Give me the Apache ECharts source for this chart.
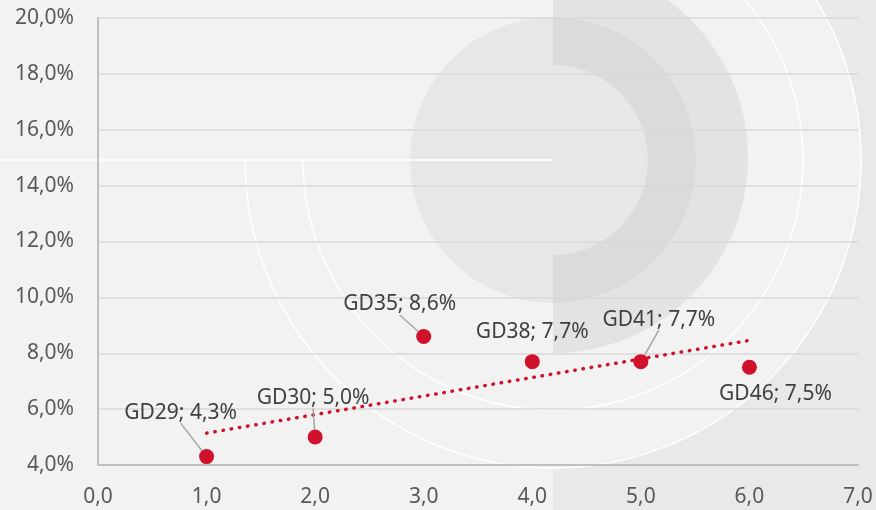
<!DOCTYPE html>
<html>
<head>
<meta charset="utf-8">
<script src="https://cdn.jsdelivr.net/npm/echarts@6/dist/echarts.min.js"></script>
<style>
  html, body { margin: 0; padding: 0; background: #f2f2f2; }
  #main { width: 876px; height: 510px; }
</style>
</head>
<body>
<div id="main"></div>
<script>
// data
var names = ['GD29', 'GD30', 'GD35', 'GD38', 'GD41', 'GD46'];
var xValues = [1, 2, 3, 4, 5, 6];
var yValues = [4.3, 5.0, 8.6, 7.7, 7.7, 7.5];
var showLeader = [true, true, true, false, true, false];
// dotted trend line ends
var trendX = [1, 6];
var trendY = [5.14, 8.46];

// label shift from the dot centre, px
var labelShift = [[-26, -46], [-2, -41], [-24, -34], [0, -32], [18, -44], [26, 25]];

function comma(v, d) {
  return v.toFixed(d).replace('.', ',');
}

var chart = echarts.init(document.getElementById('main'));

var HALF = Math.PI / 2;
var CX = 553, CY = 160;

var option = {
  backgroundColor: '#f2f2f2',
  animation: false,
  textStyle: { fontFamily: 'Noto Sans' },
  graphic: {
    elements: [
      // background decoration
      { type: 'rect', z: -20, silent: true, shape: { x: CX, y: 0, width: 876 - CX, height: 510 }, style: { fill: '#e8e9ea' } },
      { type: 'sector', z: -19, silent: true, shape: { cx: CX, cy: CY, r0: 0, r: 308, startAngle: -HALF, endAngle: HALF }, style: { fill: '#f2f2f2' } },
      { type: 'arc', z: -18, silent: true, shape: { cx: CX, cy: CY, r: 308, startAngle: -HALF, endAngle: Math.PI, clockwise: true }, style: { stroke: '#ffffff', lineWidth: 1.5, fill: null } },
      { type: 'arc', z: -18, silent: true, shape: { cx: CX, cy: CY, r: 250, startAngle: -HALF, endAngle: Math.PI, clockwise: true }, style: { stroke: '#ffffff', lineWidth: 1.5, fill: null } },
      { type: 'sector', z: -17, silent: true, shape: { cx: CX, cy: 158, r0: 0, r: 195, startAngle: -HALF, endAngle: HALF }, style: { fill: '#e3e3e3' } },
      { type: 'circle', z: -16, silent: true, shape: { cx: CX, cy: CY, r: 143 }, style: { fill: '#e6e7e8' } },
      { type: 'sector', z: -15, silent: true, shape: { cx: CX, cy: CY, r0: 95, r: 143, startAngle: -HALF, endAngle: HALF }, style: { fill: '#dbdbdb' } },
      { type: 'line', z: -14, silent: true, shape: { x1: 0, y1: CY, x2: CX, y2: CY }, style: { stroke: '#ffffff', lineWidth: 1.5 } }
    ]
  },
  grid: { left: 98, right: 18, top: 18, bottom: 45 },
  xAxis: {
    type: 'value',
    min: 0,
    max: 7,
    interval: 1,
    axisLine: { show: true, lineStyle: { color: '#bfbfbf', width: 2 } },
    axisTick: { show: false },
    splitLine: { show: false },
    axisLabel: {
      color: '#595959',
      fontSize: 21,
      margin: 22,
      formatter: function (v) { return comma(v, 1); }
    }
  },
  yAxis: {
    type: 'value',
    min: 4,
    max: 20,
    interval: 2,
    axisLine: { show: true, lineStyle: { color: '#bfbfbf', width: 2 } },
    axisTick: { show: false },
    splitLine: { lineStyle: { color: '#d9d9d9', width: 1.5 } },
    axisLabel: {
      color: '#595959',
      fontSize: 21,
      margin: 24,
      formatter: function (v) { return comma(v, 1) + '%'; }
    }
  },
  series: [
    {
      type: 'line',
      data: trendX.map(function (x, i) { return [x, trendY[i]]; }),
      showSymbol: false,
      symbol: 'none',
      lineStyle: { color: '#d0112b', width: 3.5, type: [0.5, 7.8], cap: 'round' },
      z: 2
    },
    {
      type: 'scatter',
      symbolSize: 15,
      itemStyle: { color: '#d0112b', opacity: 1 },
      data: xValues.map(function (x, i) {
        return {
          name: names[i],
          value: [x, yValues[i]],
          labelLine: { show: showLeader[i] }
        };
      }),
      label: {
        show: true,
        position: 'inside',
        color: '#404040',
        fontSize: 21,
        padding: [0, 0, 5, 0],
        formatter: function (p) { return p.name + '; ' + comma(p.value[1], 1) + '%'; }
      },
      labelLayout: function (p) {
        var s = labelShift[p.dataIndex];
        return { dx: s[0], dy: s[1] + 2 };
      },
      labelLine: {
        show: true,
        lineStyle: { color: '#a6a6a6', width: 1.5 }
      },
      z: 3
    }
  ]
};

chart.setOption(option);
</script>
</body>
</html>
